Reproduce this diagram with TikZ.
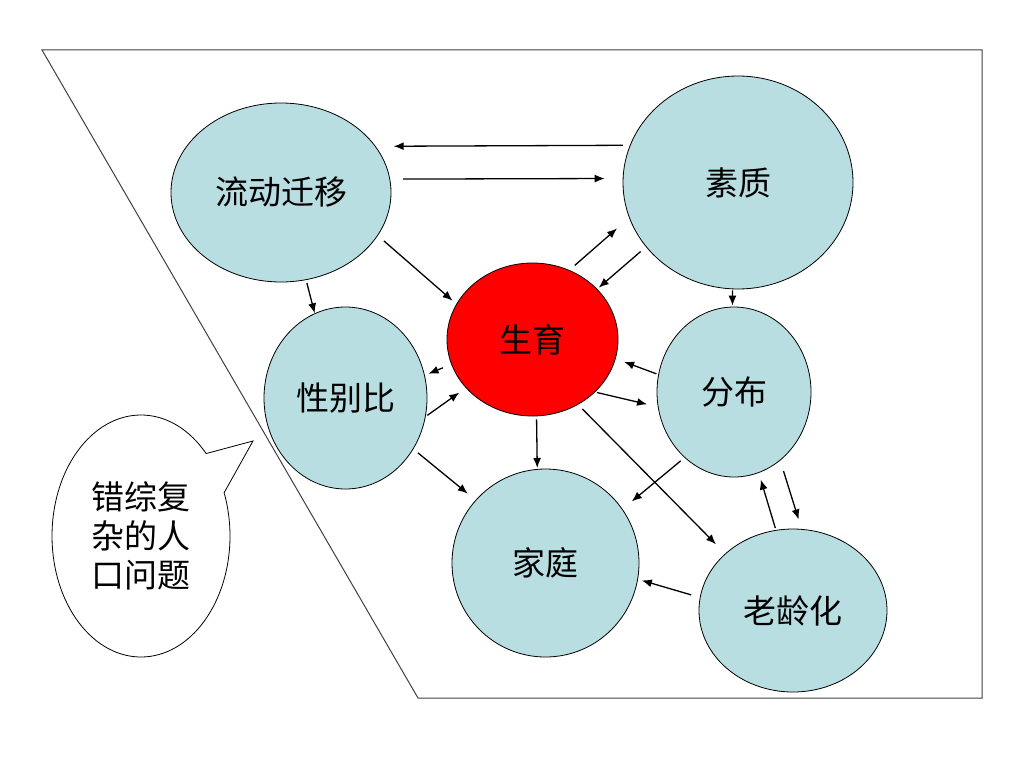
\documentclass[tikz,border=0pt]{standalone}
\usepackage{fontspec}
\newfontfamily\cjk{Noto Sans CJK SC}
\usepackage{tikz}
\usetikzlibrary{arrows.meta, shapes.geometric, shapes.callouts, positioning, calc}
\definecolor{lanse}{RGB}{185,222,226}
\tikzset{
  quan/.style={ellipse, draw, fill=lanse, line width=0.8pt, inner sep=0pt, font=\cjk\fontsize{33}{39}\selectfont},
  jian/.style={->, line width=1.3pt},
}

\begin{document}
\begin{tikzpicture}[x=1pt, y=-1pt, >={Latex[length=10pt,width=8pt]}]
\useasboundingbox (0,0) rectangle (1024,768);
\draw [line width=1pt, black!75] (42,50) -- (982,50) -- (982,698) -- (418,698) -- cycle;

\node (liudong) [quan, minimum width=220, minimum height=179] at (281,192.5) {流动迁移};
\node (suzhi) [quan, minimum width=230, minimum height=213] at (738,182.5) {素质};
\node (shengyu) [quan, fill=red, minimum width=171, minimum height=153] at (532.5,339.5) {生育};
\node (xingbie) [quan, minimum width=163, minimum height=182] at (345.5,398) {性别比};
\node (fenbu) [quan, minimum width=154, minimum height=170] at (734,392) {分布};
\node (jiating) [quan, minimum width=187, minimum height=188] at (545.5,563) {家庭};
\node (laoling) [quan, minimum width=188, minimum height=163] at (793,610.5) {老龄化};

\node (wenti) [ellipse callout, draw, fill=white, line width=0.8pt, minimum width=178, minimum height=242, callout absolute pointer={(253,441)}, callout pointer arc=22, align=center, font=\cjk\fontsize{33}{39}\selectfont] at (141,536) {错综复\\杂的人\\口问题};

\draw [jian, shorten <=7pt, shorten >=18pt] (suzhi.161) -- (liudong.26);
\draw [jian, shorten <=13pt, shorten >=18pt] (liudong.7) -- (suzhi.178);
\draw [jian, shorten <=8pt, shorten >=5pt] (liudong.-24) -- (shengyu.155);
\draw [jian, shorten <=7pt, shorten >=16pt] (shengyu.62) -- (suzhi.198);
\draw [jian, shorten <=7pt, shorten >=2pt] (suzhi.215) -- (shengyu.38);
\draw [jian, shorten <=3pt] (liudong.-74) -- (xingbie.110);
\draw [jian, shorten <=1pt, shorten >=1pt] (suzhi.-93) -- (fenbu.91);
\draw [jian, shorten <=9pt, shorten >=4pt] (shengyu.197) -- (xingbie.16);
\draw [jian, shorten <=2pt, shorten >=8pt] (xingbie.-13) -- (shengyu.216);
\draw [jian, shorten <=2pt, shorten >=9pt] (fenbu.167) -- (shengyu.-13);
\draw [jian, shorten <=2pt, shorten >=11pt] (shengyu.-40) -- (fenbu.191);
\draw [jian, shorten <=3pt, shorten >=1pt] (shengyu.-87) -- (jiating.95);
\draw [jian, shorten <=6pt, shorten >=10pt] (xingbie.-37) -- (jiating.138);
\draw [jian, shorten <=5pt, shorten >=12pt] (fenbu.233) -- (jiating.35);
\draw [jian, shorten <=6pt, shorten >=13pt] (shengyu.-55) -- (laoling.140);
\draw [jian, shorten <=2pt, shorten >=7pt] (laoling.102) -- (fenbu.-73);
\draw [jian, shorten <=11pt, shorten >=10pt] (fenbu.-56) -- (laoling.84);
\draw [jian, shorten <=9pt, shorten >=4pt] (laoling.172) -- (jiating.-10);
\end{tikzpicture}
\end{document}
